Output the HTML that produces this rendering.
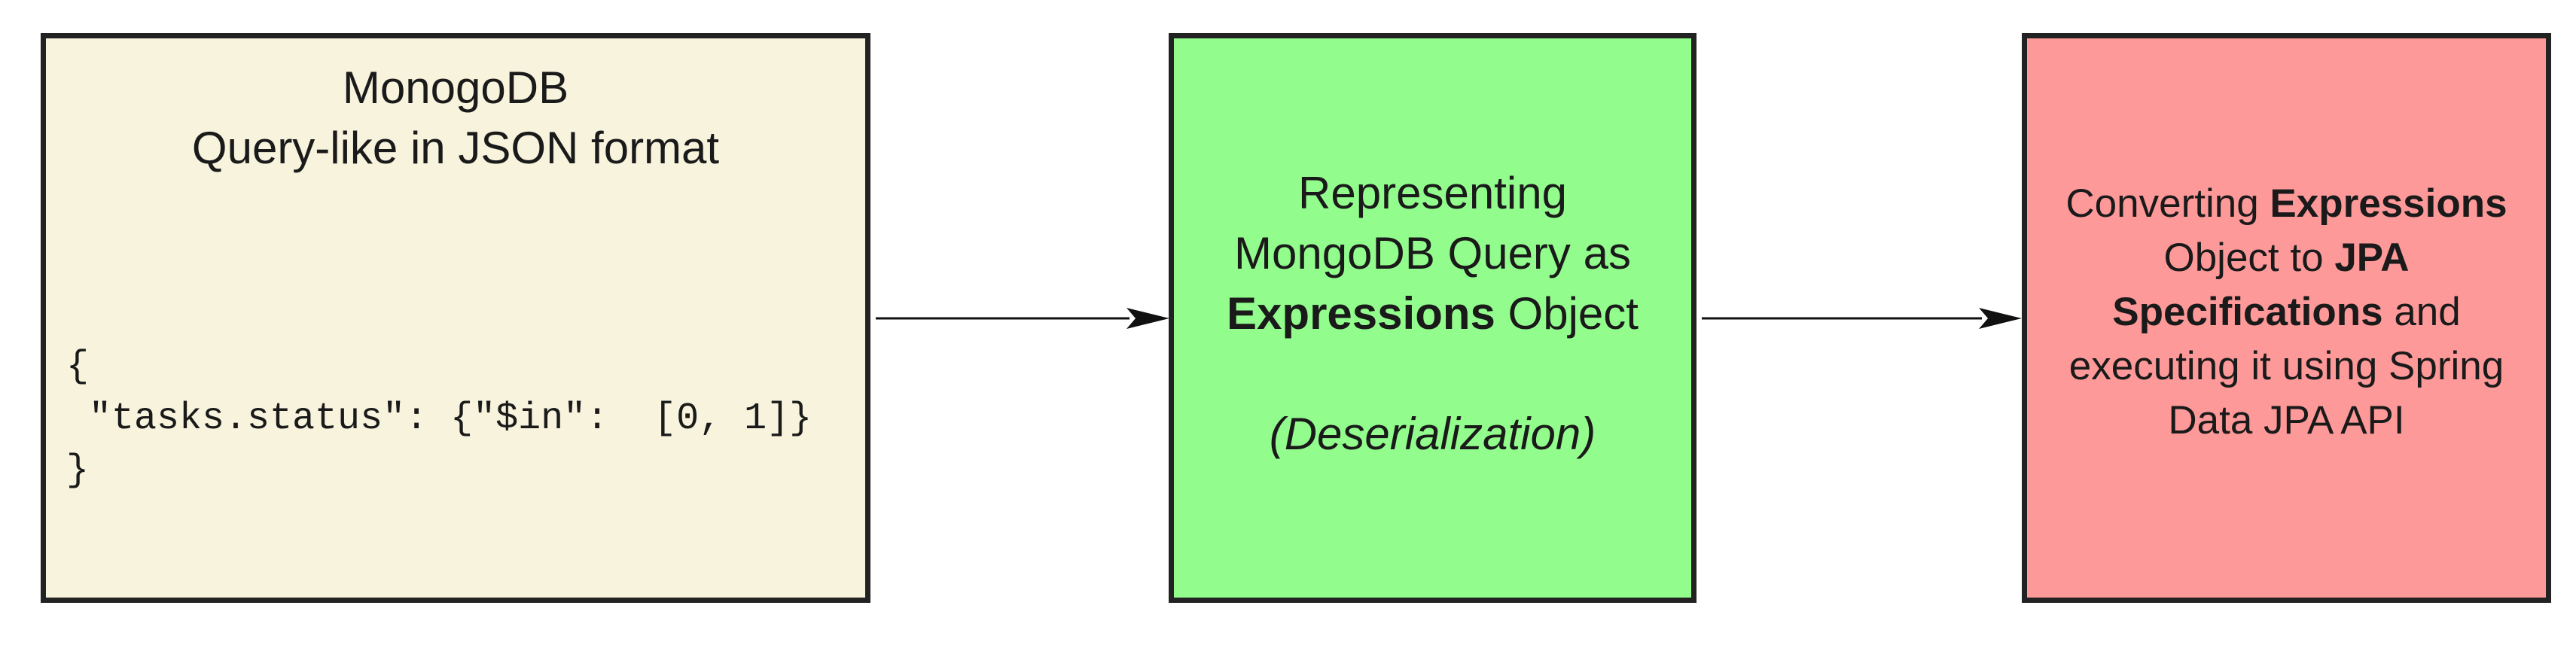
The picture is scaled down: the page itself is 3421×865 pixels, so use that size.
<!DOCTYPE html>
<html><head><meta charset="utf-8"><style>
body{margin:0;width:3421px;height:865px;background:#fff;position:relative;overflow:hidden;font-family:"Liberation Sans",sans-serif;color:#1a1a1a}
.b{position:absolute;box-sizing:border-box;border:7px solid #222}
.t{position:absolute;left:0;right:0;text-align:center}
</style></head><body>
<div class="b" style="left:54px;top:44px;width:1102px;height:757px;background:#f7f3dd">
 <div class="t" style="top:26px;font-size:60px;line-height:80px">MonogoDB<br>Query-like in JSON format</div>
 <pre style="position:absolute;left:27px;top:402px;margin:0;font-family:'Liberation Mono',monospace;font-size:50px;line-height:69px">{
 "tasks.status": {"$in":  [0, 1]}
}</pre>
</div>
<div class="b" style="left:1552px;top:44px;width:701px;height:757px;background:#92fd8d">
 <div class="t" style="top:166px;font-size:60px;line-height:80px">Representing<br>MongoDB Query as<br><b>Expressions</b> Object<br><br><i>(Deserialization)</i></div>
</div>
<div class="b" style="left:2685px;top:44px;width:703px;height:757px;background:#fe9999">
 <div class="t" style="top:184px;font-size:53px;line-height:72px">Converting <b>Expressions</b><br>Object to <b>JPA</b><br><b>Specifications</b> and<br>executing it using Spring<br>Data JPA API</div>
</div>
<svg width="3421" height="865" style="position:absolute;left:0;top:0">
 <line x1="1163" y1="423" x2="1500" y2="423" stroke="#111" stroke-width="3"/>
 <polygon points="1553,423 1496,409 1508,423 1496,437" fill="#111"/>
 <line x1="2260" y1="423" x2="2632" y2="423" stroke="#111" stroke-width="3"/>
 <polygon points="2685,423 2628,409 2640,423 2628,437" fill="#111"/>
</svg>
</body></html>
